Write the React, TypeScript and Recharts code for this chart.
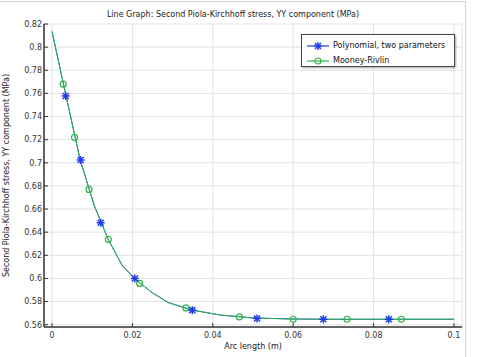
import { ComposedChart, Line, XAxis, YAxis, CartesianGrid } from "recharts";

// arc length (m) of the plotted polyline vertices
const arcLength = [
  0, 0.0035, 0.007, 0.0105, 0.014, 0.0175, 0.021, 0.025, 0.029, 0.035, 0.042,
  0.05, 0.06, 0.07, 0.08, 0.09, 0.1,
];
const polynomialStress = [
  0.8135, 0.7575, 0.7025, 0.663, 0.6335, 0.611, 0.5985, 0.5875, 0.579, 0.5725,
  0.5683, 0.5658, 0.5649, 0.5647, 0.5647, 0.5647, 0.5647,
];
const mooneyStress = [
  0.8135, 0.7575, 0.7025, 0.663, 0.6335, 0.611, 0.5985, 0.5875, 0.579, 0.5725,
  0.5683, 0.5658, 0.5649, 0.5647, 0.5647, 0.5647, 0.5647,
];

// marker positions
const polynomialMarkX = [0.0034, 0.0071, 0.0121, 0.0206, 0.0349, 0.051, 0.0675, 0.0838];
const polynomialMarkY = [0.7578, 0.7024, 0.6481, 0.6, 0.5726, 0.5654, 0.5647, 0.5647];
const mooneyMarkX = [0.0028, 0.0056, 0.0092, 0.014, 0.0218, 0.0333, 0.0466, 0.06, 0.0734, 0.0869];
const mooneyMarkY = [0.768, 0.722, 0.677, 0.6338, 0.5957, 0.5745, 0.5667, 0.5647, 0.5647, 0.5647];

const xTicks = [0, 0.02, 0.04, 0.06, 0.08, 0.1];
const yTicks = [0.56, 0.58, 0.6, 0.62, 0.64, 0.66, 0.68, 0.7, 0.72, 0.74, 0.76, 0.78, 0.8, 0.82];

const zip = (xs: number[], ys: number[]) => xs.map((x, i) => ({ x, y: ys[i] }));

const polyCurve = zip(arcLength, polynomialStress);
const mooneyCurve = zip(arcLength, mooneyStress);
const polyMarks = zip(polynomialMarkX, polynomialMarkY);
const mooneyMarks = zip(mooneyMarkX, mooneyMarkY);

const BLUE = "#1e3ce6";
const GREEN = "#2fb54a";
const FONT = "DejaVu Sans";

const fmt = (v: number) => String(Number(v.toFixed(2)));

const Star = (props: any) => {
  const { cx, cy } = props;
  if (cx == null || cy == null) return null;
  return (
    <g stroke={BLUE} strokeWidth={1.5}>
      <line x1={cx - 4} y1={cy} x2={cx + 4} y2={cy} />
      <line x1={cx} y1={cy - 4} x2={cx} y2={cy + 4} />
      <line x1={cx - 3} y1={cy - 3} x2={cx + 3} y2={cy + 3} />
      <line x1={cx - 3} y1={cy + 3} x2={cx + 3} y2={cy - 3} />
    </g>
  );
};

const Ring = (props: any) => {
  const { cx, cy } = props;
  if (cx == null || cy == null) return null;
  return <circle cx={cx} cy={cy} r={3} fill="none" stroke={GREEN} strokeWidth={1.2} />;
};

const tickStyle = { fontSize: 8, fill: "#333", fontFamily: FONT };
const frame = { stroke: "#333", strokeWidth: 1.5 };

export default function App() {
  return (
    <div style={{ position: "absolute", left: 0, top: 0, width: 477, height: 357, background: "#fff" }}>
      <div
        style={{
          position: "absolute",
          left: 0,
          top: 1,
          width: 465,
          height: 356,
          borderTop: "1px solid #d0d0d0",
          borderRight: "1px solid #d0d0d0",
        }}
      />
      <div
        style={{
          position: "absolute",
          left: 0,
          width: 466,
          top: 9,
          textAlign: "center",
          fontFamily: FONT,
          fontSize: 8,
          color: "#222",
          lineHeight: "12px",
        }}
      >
        Line Graph: Second Piola-Kirchhoff stress, YY component (MPa)
      </div>
      <ComposedChart width={477} height={357} margin={{ top: 24, right: 15, left: 0, bottom: 0 }}>
        <CartesianGrid xAxisId="b" yAxisId="l" stroke="#e2e2e2" strokeWidth={1} />
        <XAxis
          xAxisId="b"
          type="number"
          dataKey="x"
          domain={[-0.002, 0.102]}
          allowDataOverflow
          ticks={xTicks}
          interval={0}
          tickFormatter={fmt}
          tickSize={-4}
          tickMargin={9}
          height={30}
          axisLine={frame}
          tickLine={{ stroke: "#333" }}
          tick={tickStyle}
          label={{
            value: "Arc length (m)",
            position: "insideBottom",
            offset: 8,
            style: { fontSize: 8, fill: "#222", fontFamily: FONT },
          }}
        />
        <XAxis
          xAxisId="t"
          orientation="top"
          type="number"
          dataKey="x"
          domain={[-0.002, 0.102]}
          allowDataOverflow
          ticks={xTicks}
          interval={0}
          tickSize={-4}
          height={0}
          axisLine={frame}
          tickLine={{ stroke: "#333" }}
          tick={false}
        />
        <YAxis
          yAxisId="l"
          type="number"
          domain={[0.558, 0.82]}
          allowDataOverflow
          ticks={yTicks}
          interval={0}
          tickFormatter={fmt}
          tickSize={-4}
          tickMargin={6}
          width={44}
          axisLine={frame}
          tickLine={{ stroke: "#333" }}
          tick={tickStyle}
          label={{
            value: "Second Piola-Kirchhoff stress, YY component (MPa)",
            angle: -90,
            position: "insideLeft",
            offset: 6,
            style: { fontSize: 8, fill: "#222", fontFamily: FONT, textAnchor: "middle" },
          }}
        />
        <YAxis
          yAxisId="r"
          orientation="right"
          type="number"
          domain={[0.558, 0.82]}
          allowDataOverflow
          ticks={yTicks}
          interval={0}
          tickSize={-4}
          width={0}
          axisLine={frame}
          tickLine={{ stroke: "#333" }}
          tick={false}
        />
        <Line
          xAxisId="b"
          yAxisId="l"
          data={polyCurve}
          dataKey="y"
          type="linear"
          stroke={BLUE}
          strokeWidth={1}
          dot={false}
          isAnimationActive={false}
        />
        <Line
          xAxisId="b"
          yAxisId="l"
          data={mooneyCurve}
          dataKey="y"
          type="linear"
          stroke={GREEN}
          strokeWidth={1}
          dot={false}
          isAnimationActive={false}
        />
        <Line
          xAxisId="b"
          yAxisId="l"
          data={mooneyMarks}
          dataKey="y"
          stroke="none"
          dot={<Ring />}
          activeDot={false}
          isAnimationActive={false}
        />
        <Line
          xAxisId="b"
          yAxisId="l"
          data={polyMarks}
          dataKey="y"
          stroke="none"
          dot={<Star />}
          activeDot={false}
          isAnimationActive={false}
        />
      </ComposedChart>
      <div
        style={{
          position: "absolute",
          left: 301,
          top: 34,
          width: 154,
          height: 33,
          border: "1px solid #444",
          background: "#fff",
          boxShadow: "1px 1px 2px rgba(0,0,0,0.35)",
          fontFamily: FONT,
          fontSize: 8,
          color: "#111",
          boxSizing: "border-box",
          paddingTop: 3,
        }}
      >
        {[
          { name: "Polynomial, two parameters", color: BLUE, star: true },
          { name: "Mooney-Rivlin", color: GREEN, star: false },
        ].map((s) => (
          <div key={s.name} style={{ display: "flex", alignItems: "center", height: 15 }}>
            <svg width={30} height={10} style={{ marginLeft: 5 }}>
              <line x1={0} y1={5} x2={22} y2={5} stroke={s.color} strokeWidth={1.2} />
              {s.star ? <Star cx={11} cy={5} /> : <Ring cx={11} cy={5} />}
            </svg>
            <span style={{ marginLeft: -4 }}>{s.name}</span>
          </div>
        ))}
      </div>
    </div>
  );
}
